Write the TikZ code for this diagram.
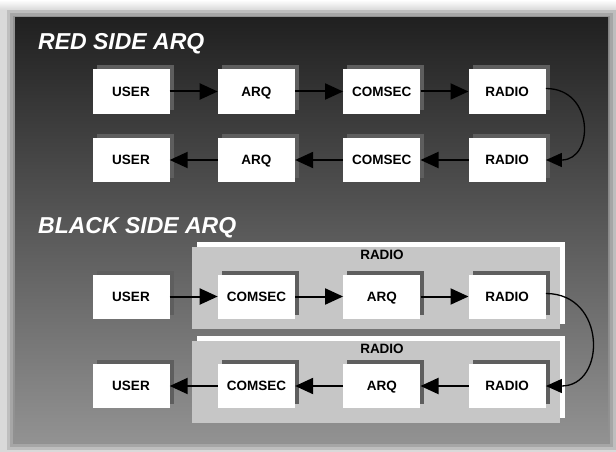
\documentclass[tikz,border=0pt]{standalone}
\usepackage{fontspec}
\setmainfont{Liberation Sans}
\usetikzlibrary{arrows.meta,positioning,shadows}
\definecolor{paneltop}{HTML}{202020}
\definecolor{panelbot}{HTML}{929292}
\definecolor{framegray}{HTML}{C6C6C6}
\definecolor{boxshade}{HTML}{5E5E5E}
\tikzset{
  blok/.style={
    fill=white,
    minimum width=77pt,
    minimum height=44pt,
    inner sep=0pt,
    text height=9.7pt,
    text depth=0pt,
    font=\bfseries\fontsize{13.5}{15}\selectfont,
    drop shadow={shadow xshift=4pt,shadow yshift=4pt,fill=boxshade,opacity=1}
  },
  kader/.style={
    fill=framegray,
    minimum width=368pt,
    minimum height=82pt,
    inner sep=0pt,
    drop shadow={shadow xshift=5pt,shadow yshift=5pt,fill=white,opacity=1}
  },
  kop/.style={
    anchor=base west,
    text=white,
    inner sep=0pt,
    font=\bfseries\itshape\fontsize{23}{25}\selectfont
  },
  etiket/.style={
    inner sep=0pt,
    font=\bfseries\fontsize{13.5}{15}\selectfont
  },
  pijl/.style={
    -{Triangle[length=18pt,width=16pt]},
    line width=2pt
  },
  bocht/.style={
    -{Triangle[length=16pt,width=14pt]},
    line width=1.3pt
  }
}
\begin{document}
\begin{tikzpicture}[x=1pt,y=-1pt,node distance=48pt]
\useasboundingbox (0,0) rectangle (616,452);
% achtergrond en paneel
\fill[black!15] (0,0) rectangle (616,452);
\shade[top color=white,bottom color=black!15] (0,0) rectangle (616,10);
\foreach \d in {8,5,2}
  \fill[black,opacity=.12] (15-\d,18-\d) rectangle (608+\d,442+\d);
\shade[top color=paneltop,bottom color=panelbot] (15,18) rectangle (608,442);

% red side
\node[kop] (rood) at (38,50) {RED SIDE ARQ};
\node[blok] (ru) at (131,91.5) {USER};
\node[blok, right=of ru] (ra) {ARQ};
\node[blok, right=of ra] (rc) {COMSEC};
\node[blok, right=of rc] (rr) {RADIO};
\node[blok] (ru2) at (131,160) {USER};
\node[blok, right=of ru2] (ra2) {ARQ};
\node[blok, right=of ra2] (rc2) {COMSEC};
\node[blok, right=of rc2] (rr2) {RADIO};
\draw[pijl] (ru) -- (ra);
\draw[pijl] (ra) -- (rc);
\draw[pijl] (rc) -- (rr);
\draw[bocht] ([yshift=3pt]rr.east) to[out=0,in=0,looseness=1.74] (rr2.east);
\draw[pijl] (rr2) -- (rc2);
\draw[pijl] (rc2) -- (ra2);
\draw[pijl] (ra2) -- (ru2);

% black side
\node[kop] (zwart) at (38,233) {BLACK SIDE ARQ};
\node[kader] (f1) at (376,287.5) {};
\node[kader] (f2) at (376,381.5) {};
\node[etiket] at ([xshift=6pt,yshift=-9pt]f1.north) {RADIO};
\node[etiket] at ([xshift=6pt,yshift=-9pt]f2.north) {RADIO};
\node[blok] (zu) at (131,296.5) {USER};
\node[blok, right=of zu] (zc) {COMSEC};
\node[blok, right=of zc] (za) {ARQ};
\node[blok, right=of za] (zr) {RADIO};
\node[blok] (zu2) at (131,386) {USER};
\node[blok, right=of zu2] (zc2) {COMSEC};
\node[blok, right=of zc2] (za2) {ARQ};
\node[blok, right=of za2] (zr2) {RADIO};
\draw[pijl] (zu) -- (zc);
\draw[pijl] (zc) -- (za);
\draw[pijl] (za) -- (zr);
\draw[bocht] ([yshift=3pt]zr.east) to[out=0,in=0,looseness=1.68] (zr2.east);
\draw[pijl] (zr2) -- (za2);
\draw[pijl] (za2) -- (zc2);
\draw[pijl] (zc2) -- (zu2);
\end{tikzpicture}
\end{document}
